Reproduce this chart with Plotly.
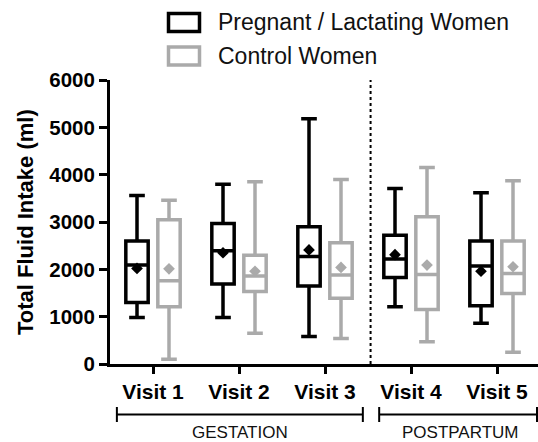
import plotly.graph_objects as go

visits = ["Visit 1", "Visit 2", "Visit 3", "Visit 4", "Visit 5"]

preg_upper = [3560, 3800, 5180, 3710, 3620]
preg_q3 = [2600, 2970, 2900, 2720, 2600]
preg_median = [2090, 2390, 2270, 2220, 2070]
preg_mean = [2020, 2350, 2410, 2310, 1960]
preg_q1 = [1300, 1690, 1650, 1830, 1230]
preg_lower = [980, 985, 580, 1210, 860]

ctrl_upper = [3460, 3850, 3900, 4150, 3870]
ctrl_q3 = [3050, 2300, 2560, 3110, 2600]
ctrl_median = [1760, 1860, 1880, 1890, 1910]
ctrl_mean = [2010, 1960, 2040, 2090, 2055]
ctrl_q1 = [1210, 1530, 1390, 1150, 1490]
ctrl_lower = [100, 650, 540, 470, 250]

series_names = ["Pregnant / Lactating Women", "Control Women"]
phase_labels = ["GESTATION", "POSTPARTUM"]

BLACK = "#000000"
GREY = "#aaaaaa"
FONT = "Arial, Liberation Sans, Helvetica, sans-serif"

W, H = 538, 442
ML, MR, MT, MB = 110, 0, 80, 78
PW = W - ML - MR
PH = H - MT - MB

OFFSET = 0.186
BOXW = 0.26

pos = list(range(1, len(visits) + 1))

fig = go.Figure()

groups = [
    (preg_lower, preg_q1, preg_median, preg_q3, preg_upper, preg_mean, BLACK, -OFFSET),
    (ctrl_lower, ctrl_q1, ctrl_median, ctrl_q3, ctrl_upper, ctrl_mean, GREY, OFFSET),
]
for (lo, q1, med, q3, up, mean, col, off), name in zip(groups, series_names):
    xs = [p + off for p in pos]
    fig.add_trace(go.Box(
        x=xs, q1=q1, median=med, q3=q3, lowerfence=lo, upperfence=up,
        name=name, width=BOXW, whiskerwidth=0.7,
        line=dict(color=col, width=3.5), fillcolor="rgba(255,255,255,0)",
        boxpoints=False, showlegend=False, hoverinfo="skip",
    ))
    fig.add_trace(go.Scatter(
        x=xs, y=mean, mode="markers", showlegend=False, hoverinfo="skip",
        marker=dict(symbol="diamond", size=9, color=col, line=dict(width=0)),
    ))

def px_x(px):
    return (px - ML) / PW

def px_y(py):
    return (H - MB - py) / PH

shapes = []
# separator
shapes.append(dict(type="line", xref="x", yref="y", x0=3.53, x1=3.53, y0=0, y1=6000,
                   line=dict(color=BLACK, width=2, dash="dot")))
# brackets
br_y = px_y(414.5)
cap0, cap1 = px_y(407), px_y(422)
for xa, xb in [(0.58, 3.44), (3.63, 5.465)]:
    shapes.append(dict(type="line", xref="x", yref="paper", x0=xa, x1=xb, y0=br_y, y1=br_y,
                       line=dict(color=BLACK, width=2)))
    for xc in (xa, xb):
        shapes.append(dict(type="line", xref="x", yref="paper", x0=xc, x1=xc, y0=cap0, y1=cap1,
                           line=dict(color=BLACK, width=2)))
# legend boxes
for (y0, y1), col in zip([(13.5, 31.5), (47, 65)], [BLACK, GREY]):
    shapes.append(dict(type="rect", xref="paper", yref="paper",
                       x0=px_x(168.5), x1=px_x(199.5), y0=px_y(y1), y1=px_y(y0),
                       line=dict(color=col, width=3.5), fillcolor="rgba(0,0,0,0)"))

annotations = []
for name, yc in zip(series_names, [22, 56]):
    annotations.append(dict(text=name, xref="paper", yref="paper", x=px_x(216), y=px_y(yc),
                            xanchor="left", yanchor="middle", showarrow=False,
                            font=dict(family=FONT, size=23, color="#111111")))
for lbl, xc in zip(phase_labels, [2.01, 4.57]):
    annotations.append(dict(text=lbl, xref="x", yref="paper", x=xc, y=px_y(432),
                            xanchor="center", yanchor="middle", showarrow=False,
                            font=dict(family=FONT, size=17, color="#111111")))
annotations.append(dict(text="<b>Total Fluid Intake (ml)</b>", xref="paper", yref="paper",
                        x=px_x(25), y=0.5, xanchor="center", yanchor="middle", textangle=-90,
                        showarrow=False, font=dict(family=FONT, size=22, color=BLACK)))

fig.update_layout(
    width=W, height=H,
    margin=dict(l=ML, r=MR, t=MT, b=MB, autoexpand=False),
    paper_bgcolor="white", plot_bgcolor="white",
    showlegend=False,
    shapes=shapes, annotations=annotations,
    font=dict(family=FONT, color=BLACK),
)
fig.update_xaxes(
    range=[0.5, 0.5 + PW / 86 * 1.0], tickvals=pos, ticktext=["<b>%s</b>" % v for v in visits],
    showline=True, linecolor=BLACK, linewidth=3, ticks="outside", ticklen=7, tickwidth=3,
    tickcolor=BLACK, showgrid=False, zeroline=False, tickfont=dict(size=21, family=FONT, color=BLACK),
)
fig.update_yaxes(
    range=[0, 6000], tickvals=[0, 1000, 2000, 3000, 4000, 5000, 6000],
    ticktext=["<b>%d</b>" % v for v in [0, 1000, 2000, 3000, 4000, 5000, 6000]],
    showline=True, linecolor=BLACK, linewidth=3, ticks="outside", ticklen=8, tickwidth=3,
    tickcolor=BLACK, showgrid=False, zeroline=False, tickfont=dict(size=20.5, family=FONT, color=BLACK),
)

fig.write_html("out.html")
